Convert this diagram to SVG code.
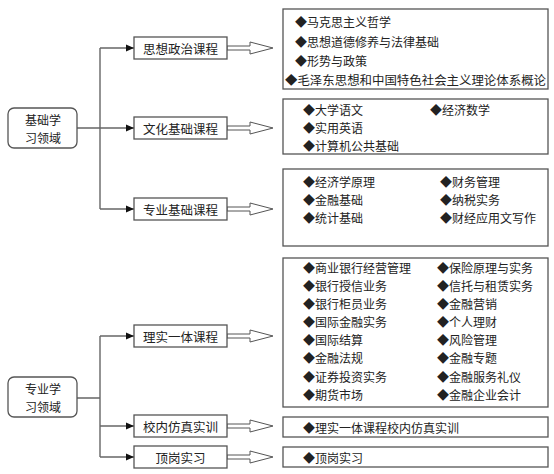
<svg xmlns="http://www.w3.org/2000/svg" width="554" height="474" viewBox="0 0 554 474">
<defs>
<marker id="ah" markerWidth="8" markerHeight="8" refX="8" refY="4" orient="auto" markerUnits="userSpaceOnUse"><path d="M0,0.5 L8,4 L0,7.5 Z" fill="#111"/></marker>
<style>
text{font-family:"Noto Sans CJK SC","Noto Sans",sans-serif;fill:#222;dominant-baseline:central}
.t{font-size:12px}
.n{font-size:12.5px;text-anchor:middle}
.r{font-size:12px;text-anchor:middle}
.box{fill:#fff;stroke:#555;stroke-width:1.3}
.root{fill:#fff;stroke:#555;stroke-width:1.3}
.ln{fill:none;stroke:#666;stroke-width:1.4}
.ha{fill:#fff;stroke:#555;stroke-width:1}
</style>
</defs>
<rect width="554" height="474" fill="#fff"/>
<g id="connectors">
<path class="ln" d="M77,128 H100 M100,48 V209"/>
<path class="ln" d="M100,48 H134" marker-end="url(#ah)"/>
<path class="ln" d="M100,128 H134" marker-end="url(#ah)"/>
<path class="ln" d="M100,209 H134" marker-end="url(#ah)"/>
<path class="ln" d="M77,398 H100 M100,336 V457"/>
<path class="ln" d="M100,336 H134" marker-end="url(#ah)"/>
<path class="ln" d="M100,426 H134" marker-end="url(#ah)"/>
<path class="ln" d="M100,457 H134" marker-end="url(#ah)"/>
<polygon class="ha" points="227,46 250,46 250,42 273,48 250,54 250,50 227,50"/>
<polygon class="ha" points="227,126 250,126 250,122 273,128 250,134 250,130 227,130"/>
<polygon class="ha" points="227,207 250,207 250,203 273,209 250,215 250,211 227,211"/>
<polygon class="ha" points="227,334 250,334 250,330 273,336 250,342 250,338 227,338"/>
<polygon class="ha" points="227,424 250,424 250,420 273,426 250,432 250,428 227,428"/>
<polygon class="ha" points="227,455 250,455 250,451 273,457 250,463 250,459 227,459"/>
</g>
<g id="root1">
<rect class="root" x="8" y="108" width="69" height="40" rx="6"/>
<text class="r" x="43" y="119.5">基础学</text>
<text class="r" x="43" y="137">习领域</text>
</g>
<g id="root2">
<rect class="root" x="8" y="377" width="69" height="40" rx="6"/>
<text class="r" x="43" y="388.5">专业学</text>
<text class="r" x="43" y="406">习领域</text>
</g>
<g id="c1"><rect class="box" x="134" y="37" width="93" height="22"/><text class="n" x="180.5" y="48">思想政治课程</text></g>
<g id="c2"><rect class="box" x="134" y="117" width="93" height="22"/><text class="n" x="180.5" y="128">文化基础课程</text></g>
<g id="c3"><rect class="box" x="134" y="198" width="93" height="22"/><text class="n" x="180.5" y="209">专业基础课程</text></g>
<g id="c4"><rect class="box" x="134" y="325" width="93" height="22"/><text class="n" x="180.5" y="336">理实一体课程</text></g>
<g id="c5"><rect class="box" x="134" y="415" width="93" height="22"/><text class="n" x="180.5" y="426">校内仿真实训</text></g>
<g id="c6"><rect class="box" x="134" y="446" width="93" height="22"/><text class="n" x="180.5" y="457">顶岗实习</text></g>
<g id="d1">
<rect class="box" x="283" y="9" width="265" height="80"/>
<text class="t" x="295" y="21">◆马克思主义哲学</text>
<text class="t" x="295" y="41">◆思想道德修养与法律基础</text>
<text class="t" x="295" y="60">◆形势与政策</text>
<text class="t" x="285" y="79" textLength="261" lengthAdjust="spacingAndGlyphs">◆毛泽东思想和中国特色社会主义理论体系概论</text>
</g>
<g id="d2">
<rect class="box" x="283" y="99" width="265" height="55"/>
<text class="t" x="303" y="109">◆大学语文</text>
<text class="t" x="430" y="109">◆经济数学</text>
<text class="t" x="303" y="127">◆实用英语</text>
<text class="t" x="303" y="145">◆计算机公共基础</text>
</g>
<g id="d3">
<rect class="box" x="283" y="169" width="265" height="77"/>
<text class="t" x="303" y="181">◆经济学原理</text>
<text class="t" x="440" y="181">◆财务管理</text>
<text class="t" x="303" y="199">◆金融基础</text>
<text class="t" x="440" y="199">◆纳税实务</text>
<text class="t" x="303" y="217">◆统计基础</text>
<text class="t" x="440" y="217">◆财经应用文写作</text>
</g>
<g id="d4">
<rect class="box" x="283" y="258" width="265" height="149"/>
<text class="t" x="303" y="267">◆商业银行经营管理</text>
<text class="t" x="437" y="267">◆保险原理与实务</text>
<text class="t" x="303" y="285">◆银行授信业务</text>
<text class="t" x="437" y="285">◆信托与租赁实务</text>
<text class="t" x="303" y="303">◆银行柜员业务</text>
<text class="t" x="437" y="303">◆金融营销</text>
<text class="t" x="303" y="321">◆国际金融实务</text>
<text class="t" x="437" y="321">◆个人理财</text>
<text class="t" x="303" y="339">◆国际结算</text>
<text class="t" x="437" y="339">◆风险管理</text>
<text class="t" x="303" y="357">◆金融法规</text>
<text class="t" x="437" y="357">◆金融专题</text>
<text class="t" x="303" y="376">◆证券投资实务</text>
<text class="t" x="437" y="376">◆金融服务礼仪</text>
<text class="t" x="303" y="394">◆期货市场</text>
<text class="t" x="437" y="394">◆金融企业会计</text>
</g>
<g id="d5">
<rect class="box" x="283" y="417" width="265" height="20"/>
<text class="t" x="303" y="427">◆理实一体课程校内仿真实训</text>
</g>
<g id="d6">
<rect class="box" x="283" y="447" width="265" height="20"/>
<text class="t" x="303" y="457">◆顶岗实习</text>
</g>
</svg>
